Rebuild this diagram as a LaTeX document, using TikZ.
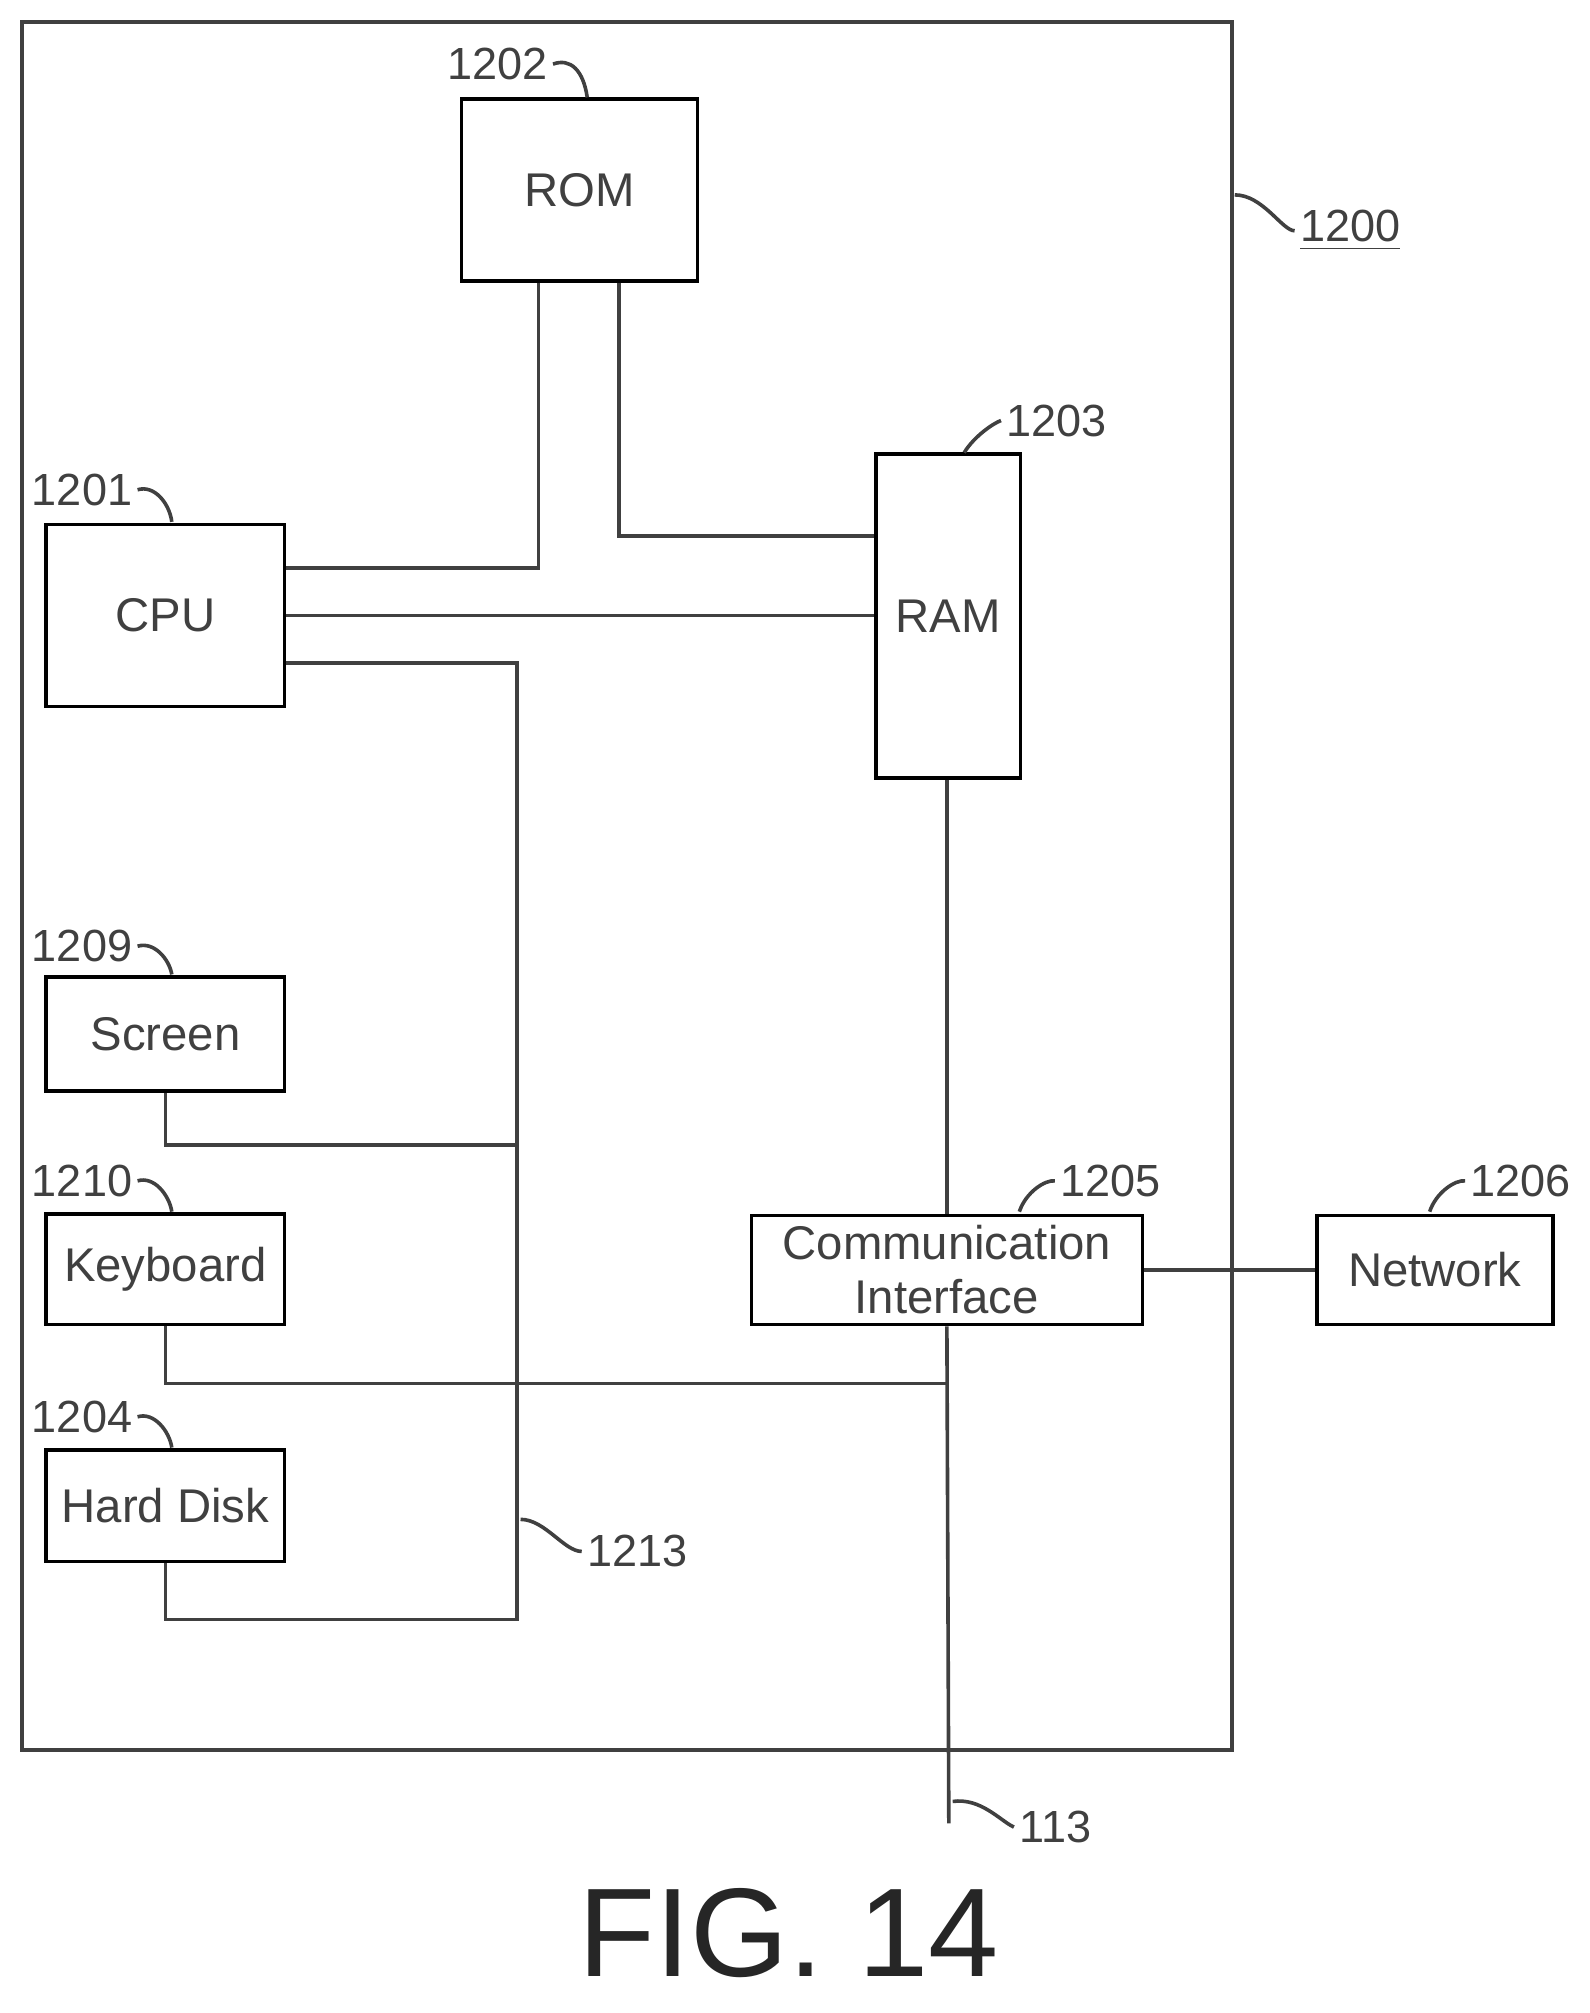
\documentclass[tikz,border=0pt]{standalone}
\usepackage{fontspec}
\setmainfont{Liberation Sans}
\usetikzlibrary{positioning}
\tikzstyle{unit} = [draw, thick, rectangle, inner sep=0pt, font=\fontsize{10.5}{12}\selectfont, align=center, text=black!75]
\tikzstyle{bus} = [thick, black!75]
\tikzstyle{ref} = [font=\fontsize{10}{12}\selectfont, text=black!75, inner sep=1pt]
\tikzstyle{lead} = [thick, black!75]

\begin{document}
\begin{tikzpicture}[x=0.1mm, y=-0.1mm]
    \useasboundingbox (0, 0) rectangle (1240, 1570);

    % Frame.
    \draw [thick, black!75] (17, 17) rectangle (961, 1365);

    % Units.
    \node (rom) [unit, minimum width=18.4mm, minimum height=14.2mm] at (452, 148) {ROM};
    \node (cpu) [unit, minimum width=18.6mm, minimum height=14.2mm] at (129, 480) {CPU};
    \node (ram) [unit, minimum width=11.3mm, minimum height=25.3mm] at (739.5, 480.5) {RAM};
    \node (screen) [unit, minimum width=18.6mm, minimum height=8.9mm] at (129, 806.5) {Screen};
    \node (keyboard) [unit, minimum width=18.6mm, minimum height=8.6mm] at (129, 990) {Keyboard};
    \node (disk) [unit, minimum width=18.6mm, minimum height=8.7mm] at (129, 1174.5) {Hard Disk};
    \node (comm) [unit, minimum width=30.5mm, minimum height=8.5mm] at (738.5, 990.5) {Communication\\Interface};
    \node (network) [unit, minimum width=18.4mm, minimum height=8.5mm] at (1119, 990.5) {Network};

    % Junctions.
    \coordinate (bus top) at (403, 517);
    \coordinate (bus screen) at (403, 893);
    \coordinate (bus bottom) at (403, 1263);
    \coordinate (kb bus) at (740, 1079);
    \coordinate (ext) at (740, 1422);

    % Buses.
    \draw [bus] (rom.south -| 420, 0) |- (cpu.east |- 0, 443);
    \draw [bus] (rom.south -| 483, 0) |- (ram.west |- 0, 418);
    \draw [bus] (cpu.east) -- (ram.west |- cpu.east);
    \draw [bus] (cpu.east |- 0, 517) -- (bus top) -- (bus bottom) -| (disk.south);
    \draw [bus] (screen.south) |- (bus screen);
    \draw [bus] (keyboard.south) |- (kb bus);
    \draw [bus] (ram.south -| comm.north) -- (comm.north);
    \draw [bus] (comm.south) -- (ext);
    \draw [bus] (comm.east) -- (network.west);

    % Reference numerals.
    \node (n1202) [ref] at (388, 50) {1202};
    \node (n1201) [ref] at (64, 382) {1201};
    \node (n1203) [ref] at (824, 328) {1203};
    \node (n1209) [ref] at (64, 738) {1209};
    \node (n1210) [ref] at (64, 921) {1210};
    \node (n1204) [ref] at (64, 1105) {1204};
    \node (n1205) [ref] at (866, 921) {1205};
    \node (n1206) [ref] at (1186, 921) {1206};
    \node (n1213) [ref] at (497, 1210) {1213};
    \node (n113) [ref] at (823, 1425) {113};
    \node (n1200) [ref] at (1053, 180) {\underline{1200}};

    \draw [lead] (n1202.east) .. controls (445, 45) and (455, 55) .. (458, 76);
    \draw [lead] (n1201.east) .. controls (120, 378) and (132, 392) .. (134, 407);
    \draw [lead] (n1203.west) .. controls (775, 330) and (760, 340) .. (752, 353);
    \draw [lead] (n1209.east) .. controls (120, 734) and (132, 748) .. (134, 760);
    \draw [lead] (n1210.east) .. controls (120, 917) and (132, 932) .. (134, 945);
    \draw [lead] (n1204.east) .. controls (120, 1101) and (132, 1116) .. (134, 1129);
    \draw [lead] (n1205.west) .. controls (815, 920) and (800, 930) .. (795, 945);
    \draw [lead] (n1206.west) .. controls (1135, 920) and (1120, 930) .. (1115, 945);
    \draw [lead] (n1213.west) .. controls (440, 1210) and (425, 1185) .. (406, 1185);
    \draw [lead] (n113.west) .. controls (780, 1420) and (765, 1402) .. (743, 1405);
    \draw [lead] (n1200.west) .. controls (1000, 180) and (985, 152) .. (963, 152);

    % Caption.
    \node (caption) [font=\fontsize{28}{32}\selectfont, text=black!85] at (615, 1508) {FIG. 14};
\end{tikzpicture}
\end{document}
